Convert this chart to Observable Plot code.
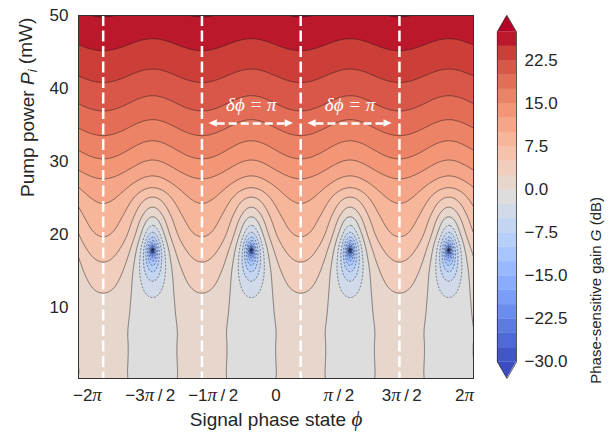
<!DOCTYPE html>
<html><head><meta charset="utf-8">
<script src="https://cdn.jsdelivr.net/npm/d3@7"></script>
<script src="https://cdn.jsdelivr.net/npm/@observablehq/plot@0.6"></script>
<style>
html,body{margin:0;padding:0;background:#fff;}
#chart{position:relative;width:616px;height:438px;font-family:"Liberation Sans",Arial,sans-serif;}
#chart svg{position:absolute;left:0;top:0;overflow:visible;background:transparent;}
</style></head><body><div id="chart"></div>
<script>
const PI = Math.PI;
// ---- data ----
const pumpPower = [0,2.5,5,7.5,10,12.5,15,17.5,20,22.5,25,27.5,30,32.5,35,37.5,40,42.5,45,47.5,50]; // mW
const gainAtMaxPhase = [0,0.02,0.15,0.55,1.5,2.8,4.2,5.9,7.7,9.0,10.5,12.4,14.7,16.7,18.6,20.4,22.0,23.5,24.9,26.3,27.6]; // dB, along the dashed lines
const gainAtMinPhase = [0,-0.02,-0.15,-0.6,-1.6,-3.6,-7.8,-25,-6.0,0.2,4.8,9.3,12.3,14.7,16.9,18.9,20.7,22.4,23.9,25.4,26.8]; // dB, through the wells
const nullPower = 17.8; // mW, centre of the deep wells
const maxGainPhases = [-7*PI/4, -3*PI/4, PI/4, 5*PI/4]; // dashed lines
const xTickValues = [-6,-4,-2,0,2,4,6];
const xTickLabels = ["−2π","−3π/2","−1π/2","0","π/2","3π/2","2π"];
const yTickValues = [10,20,30,40,50];
const levels = [-30,-27.5,-25,-22.5,-20,-17.5,-15,-12.5,-10,-7.5,-5,-2.5,0,2.5,5,7.5,10,12.5,15,17.5,20,22.5,25,27.5];
const colorbarTicks = [-30,-22.5,-15,-7.5,0,7.5,15,22.5];
const annotationPhases = [-PI/4, 3*PI/4];
const annotationLabel = "δϕ = π";
const annotationTextPower = 37.7;
const annotationArrowPower = 35.2;
const annotationHalfSpan = 1.34;
const xLabel = "Signal phase state ϕ";
const yLabel = "Pump power Pi (mW)";
const cbLabel = "Phase-sensitive gain G (dB)";
// coolwarm colormap anchors (t = 0, 1/16, ..., 1)
const coolwarm = ["#3b4cc0","#4d68d7","#6282ea","#779af7","#8db0fe","#a3c2fe","#b8d0f9","#ccd9ee","#dddddd","#ecd3c5","#f5c4ad","#f7b194","#f49a7b","#ec7f63","#de604d","#cb3e38","#b40426"];

// ---- derived tables ----
const cw = d3.scaleLinear().domain(coolwarm.map((_, i) => i / (coolwarm.length - 1))).range(coolwarm).interpolate(d3.interpolateRgb).clamp(true);
const lo = levels[0], hi = levels[levels.length - 1];
const bandColors = [cw(0)];
for (let i = 0; i < levels.length - 1; i++) bandColors.push(cw(((levels[i] + levels[i+1]) / 2 - lo) / (hi - lo)));
bandColors.push(cw(1));

const ampMax = gainAtMaxPhase.map(g => Math.pow(10, g / 20));
const ampMin = gainAtMinPhase.map((g, i) => (pumpPower[i] < nullPower ? 1 : -1) * Math.pow(10, g / 20));
function rowValue(arr, P) {
  let i = d3.bisectRight(pumpPower, P) - 1;
  i = Math.max(0, Math.min(i, pumpPower.length - 2));
  const t = (P - pumpPower[i]) / (pumpPower[i+1] - pumpPower[i]);
  const p1 = arr[i], p2 = arr[i+1];
  const p0 = i > 0 ? arr[i-1] : 2*p1 - p2;
  const p3 = i + 2 < arr.length ? arr[i+2] : 2*p2 - p1;
  return 0.5 * (2*p1 + (-p0 + p2)*t + (2*p0 - 5*p1 + 4*p2 - p3)*t*t + (-p0 + 3*p1 - 3*p2 + p3)*t*t*t);
}
const X1 = -2*PI, X2 = 2*PI, Y1 = 0.25, Y2 = 50;
const W = 790, H = 726;
const grid = new Float64Array(W * H);
for (let j = 0; j < H; j++) {
  const P = Y1 + (j + 0.5) * (Y2 - Y1) / H;
  const A = rowValue(ampMax, P), a = rowValue(ampMin, P);
  const A2 = A*A, a2 = a*a;
  for (let c = 0; c < W; c++) {
    const phi = X1 + (c + 0.5) * (X2 - X1) / W;
    const g = (A2 + a2) / 2 + (A2 - a2) / 2 * Math.cos(2 * (phi - maxGainPhases[2]));
    grid[j*W + c] = 10 * Math.log10(Math.max(g, 1e-12));
  }
}
const raster = {width: W, height: H, x1: X1, x2: X2, y1: Y1, y2: Y2};

// arrow heads as small triangles
const headLen = 0.26, headHalf = 0.5;
const heads = [];
annotationPhases.forEach((c, k) => {
  const L = c - annotationHalfSpan, R = c + annotationHalfSpan;
  heads.push({z: "l"+k, x: L + headLen, y1: annotationArrowPower - headHalf, y2: annotationArrowPower + headHalf});
  heads.push({z: "l"+k, x: L, y1: annotationArrowPower, y2: annotationArrowPower});
  heads.push({z: "r"+k, x: R - headLen, y1: annotationArrowPower - headHalf, y2: annotationArrowPower + headHalf});
  heads.push({z: "r"+k, x: R, y1: annotationArrowPower, y2: annotationArrowPower});
});

const colorScale = {type: "threshold", domain: levels, range: bandColors};
const font = "Liberation Sans, Arial, sans-serif";

const main = Plot.plot({
  width: 616, height: 438,
  marginLeft: 78, marginRight: 143, marginTop: 15, marginBottom: 60,
  style: {fontFamily: font, fontSize: "17px", color: "#262626", background: "transparent", overflow: "visible"},
  x: {domain: [X1, X2], ticks: xTickValues, tickFormat: d => xTickLabels[xTickValues.indexOf(d)], tickSize: 0, tickPadding: 10, label: null},
  y: {domain: [Y1, Y2], ticks: yTickValues, tickSize: 0, tickPadding: 10, label: null},
  color: colorScale,
  marks: [
    Plot.contour(grid, {...raster, fill: Plot.identity, thresholds: [-200, ...levels], stroke: "none"}),
    Plot.contour(grid, {...raster, value: Plot.identity, thresholds: levels.filter(l => l >= 0), fill: "none", stroke: "#1a1a1a", strokeWidth: 0.6, strokeOpacity: 0.85}),
    Plot.contour(grid, {...raster, value: Plot.identity, thresholds: levels.filter(l => l < 0), fill: "none", stroke: "#1a1a1a", strokeWidth: 0.6, strokeOpacity: 0.85, strokeDasharray: "2,1.5"}),
    Plot.ruleX(maxGainPhases, {stroke: "white", strokeWidth: 2.5, strokeDasharray: "11,4.5"}),
    Plot.link(annotationPhases, {x1: d => d - annotationHalfSpan + headLen - 0.02, x2: d => d + annotationHalfSpan - headLen + 0.02, y1: annotationArrowPower, y2: annotationArrowPower, stroke: "white", strokeWidth: 2.5, strokeDasharray: "8,4"}),
    Plot.areaY(heads, {x: "x", y1: "y1", y2: "y2", z: "z", fill: "white"}),
    Plot.text(annotationPhases, {x: d => d, y: annotationTextPower, text: () => annotationLabel, fill: "white", fontSize: 19, fontFamily: "Liberation Serif, serif", fontStyle: "italic"}),
    Plot.frame({stroke: "#333", strokeWidth: 1}),
    Plot.text([yLabel], {frameAnchor: "left", dx: -51, rotate: -90, fontSize: 19, fill: "#262626"}),
    Plot.text([xLabel], {frameAnchor: "bottom", dy: 47, fontSize: 19, fill: "#262626"})
  ]
});

// colour bar
const ext = 0.05 * (hi - lo);
const bands = levels.slice(0, -1).map((l, i) => ({lo: l, hi: levels[i+1]}));
const topArrow = [{y: hi, x1: 0, x2: 1}, {y: hi + ext, x1: 0.5, x2: 0.5}];
const botArrow = [{y: lo, x1: 0, x2: 1}, {y: lo - ext, x1: 0.5, x2: 0.5}];
const outline = [{x: 0, y: lo}, {x: 0, y: hi}, {x: 0.5, y: hi + ext}, {x: 1, y: hi}, {x: 1, y: lo}, {x: 0.5, y: lo - ext}, {x: 0, y: lo}];
const bar = Plot.plot({
  width: 616, height: 438,
  marginLeft: 497, marginRight: 100, marginTop: 15, marginBottom: 60,
  style: {fontFamily: font, fontSize: "17px", color: "#262626", background: "transparent", overflow: "visible"},
  x: {domain: [0, 1], axis: null},
  y: {domain: [lo - ext, hi + ext], ticks: colorbarTicks, axis: "right", tickSize: 0, tickPadding: 8, label: null,
      tickFormat: d => (d < 0 ? "−" : "") + Math.abs(d).toFixed(1)},
  color: colorScale,
  marks: [
    Plot.rect(bands, {x1: 0, x2: 1, y1: "lo", y2: "hi", fill: "lo", stroke: "lo", strokeWidth: 0.3}),
    Plot.areaX(topArrow, {y: "y", x1: "x1", x2: "x2", fill: bandColors[bandColors.length - 1]}),
    Plot.areaX(botArrow, {y: "y", x1: "x1", x2: "x2", fill: bandColors[0]}),
    Plot.line(outline, {x: "x", y: "y", stroke: "#333", strokeWidth: 0.8}),
    Plot.text([cbLabel], {frameAnchor: "right", dx: 80, rotate: -90, fontSize: 15, fill: "#262626"})
  ]
});

const root = document.getElementById("chart");
root.appendChild(main);
root.appendChild(bar);

// rich text (italics, subscripts, serif math symbols)
const NS = "http://www.w3.org/2000/svg";
function enrich(svg, match, parts) {
  for (const t of svg.querySelectorAll("text")) {
    if (t.textContent === match) {
      t.textContent = "";
      for (const p of parts) {
        const s = document.createElementNS(NS, "tspan");
        s.textContent = p.t;
        if (p.italic) s.setAttribute("font-style", "italic");
        if (p.serif) s.setAttribute("font-family", "Liberation Serif, serif");
        if (p.dy) s.setAttribute("dy", p.dy);
        if (p.size) s.setAttribute("font-size", p.size);
        t.appendChild(s);
      }
    }
  }
}
enrich(main, yLabel, [{t: "Pump power "}, {t: "P", italic: true}, {t: "i", italic: true, dy: "0.3em", size: "13px"}, {t: " (mW)", dy: "-0.3em"}]);
enrich(main, xLabel, [{t: "Signal phase state "}, {t: "ϕ", italic: true, serif: true, size: "21px"}]);
enrich(bar, cbLabel, [{t: "Phase-sensitive gain "}, {t: "G", italic: true}, {t: " (dB)"}]);
for (const lab of xTickLabels) {
  if (!lab.includes("π")) continue;
  const parts = [];
  lab.split(/(π)/).forEach(s => { if (s === "π") parts.push({t: "π", italic: true, serif: true, size: "19px"}); else if (s) parts.push({t: s.replace("/", "\u2009/\u2009")}); });
  enrich(main, lab, parts);
}
</script></body></html>
